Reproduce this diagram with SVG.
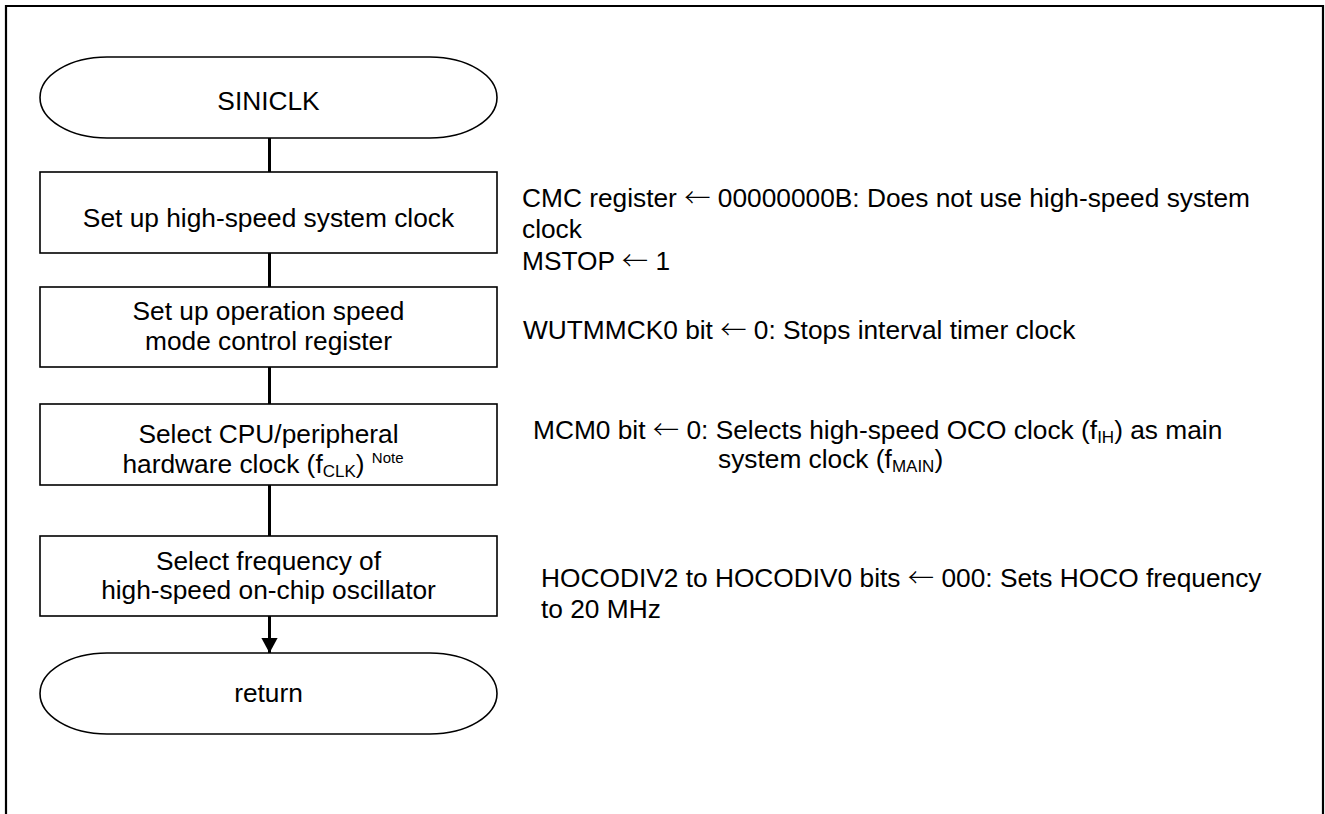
<svg xmlns="http://www.w3.org/2000/svg" width="1325" height="814" viewBox="0 0 1325 814">
<style>
text{font-family:"Liberation Sans",Arial,Helvetica,sans-serif;font-size:26.3px;fill:#000}
.c{text-anchor:middle}
.shape{fill:#fff;stroke:#000;stroke-width:1.6}
.conn{stroke:#000;stroke-width:3;fill:none}
.sub{font-size:17px}
.sup{font-size:15px}
.ar{font-family:"Noto Sans CJK JP","DejaVu Sans",sans-serif;font-weight:300}
</style>
<defs>
<marker id="arr" markerWidth="5" markerHeight="5.4" refX="5" refY="2.7" orient="auto" markerUnits="strokeWidth" viewBox="0 0 5 5.4">
<path d="M0,0 L5,2.7 L0,5.4 Z" fill="#000"/>
</marker>
</defs>
<rect x="0" y="0" width="1325" height="814" fill="#fff"/>
<path d="M6,820 V6 H1323 V820" fill="none" stroke="#000" stroke-width="2.2"/>
<g id="connectors">
<line class="conn" x1="269.5" y1="138" x2="269.5" y2="172"/>
<line class="conn" x1="269.5" y1="253" x2="269.5" y2="287"/>
<line class="conn" x1="269.5" y1="367" x2="269.5" y2="404"/>
<line class="conn" x1="269.5" y1="485" x2="269.5" y2="536"/>
<line class="conn" x1="269.5" y1="616" x2="269.5" y2="653" marker-end="url(#arr)"/>
</g>
<g id="start">
<path class="shape" d="M107,57 H430 A67,40.5 0 0 1 430,138 H107 A67,40.5 0 0 1 107,57 Z"/>
<text class="c" x="268.5" y="110">SINICLK</text>
</g>
<g id="step1">
<rect class="shape" x="40" y="172" width="457" height="81"/>
<text class="c" x="268.5" y="226.5">Set up high-speed system clock</text>
</g>
<g id="step2">
<rect class="shape" x="40" y="287" width="457" height="80"/>
<text class="c" x="268.5" y="320">Set up operation speed</text>
<text class="c" x="268.5" y="349.5">mode control register</text>
</g>
<g id="step3">
<rect class="shape" x="40" y="404" width="457" height="81"/>
<text class="c" x="268.5" y="442.5">Select CPU/peripheral</text>
<text class="c" x="263" y="472.5">hardware clock (f<tspan class="sub" dy="4">CLK</tspan><tspan dy="-4">) </tspan><tspan class="sup" dy="-10">Note</tspan></text>
</g>
<g id="step4">
<rect class="shape" x="40" y="536" width="457" height="80"/>
<text class="c" x="268.5" y="569.5">Select frequency of</text>
<text class="c" x="268.5" y="598.5">high-speed on-chip oscillator</text>
</g>
<g id="end">
<path class="shape" d="M107,653 H430 A67,40.5 0 0 1 430,734 H107 A67,40.5 0 0 1 107,653 Z"/>
<text class="c" x="268.5" y="702">return</text>
</g>
<g id="notes">
<text x="522" y="207">CMC register <tspan class="ar">←</tspan> 00000000B: Does not use high-speed system</text>
<text x="522" y="237.5">clock</text>
<text x="522" y="270">MSTOP <tspan class="ar">←</tspan> 1</text>
<text x="523" y="338.5">WUTMMCK0 bit <tspan class="ar">←</tspan> 0: Stops interval timer clock</text>
<text x="533" y="438.5">MCM0 bit <tspan class="ar">←</tspan> 0: Selects high-speed OCO clock (f<tspan class="sub" dy="4">IH</tspan><tspan dy="-4">) as main</tspan></text>
<text x="718" y="467.5">system clock (f<tspan class="sub" dy="4">MAIN</tspan><tspan dy="-4">)</tspan></text>
<text x="541" y="587">HOCODIV2 to HOCODIV0 bits <tspan class="ar">←</tspan> 000: Sets HOCO frequency</text>
<text x="541" y="618">to 20 MHz</text>
</g>
</svg>
